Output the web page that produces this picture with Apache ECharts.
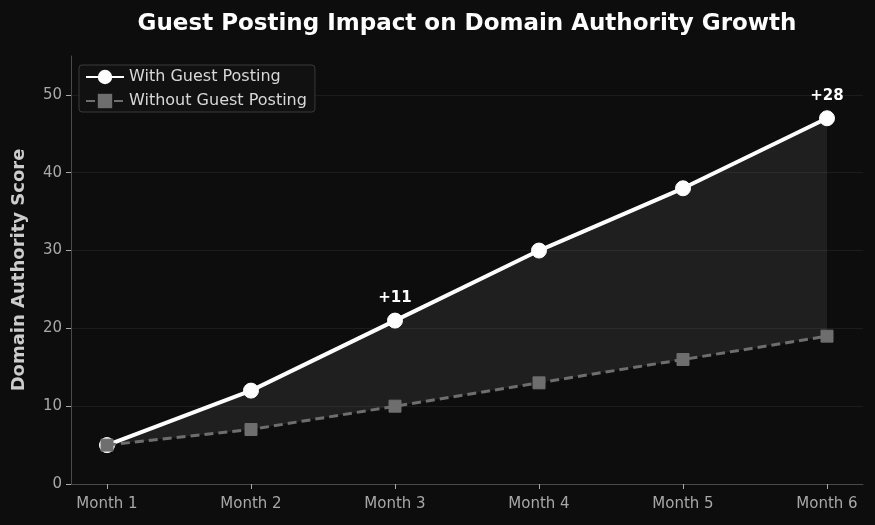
<!DOCTYPE html>
<html>
<head>
<meta charset="utf-8">
<script src="https://cdn.jsdelivr.net/npm/echarts@6/dist/echarts.min.js"></script>
<style>
  html, body { margin: 0; padding: 0; background: #0d0d0d; }
  #chart { width: 875px; height: 525px; }
</style>
</head>
<body>
<div id="chart"></div>
<script>
const months = ['Month 1', 'Month 2', 'Month 3', 'Month 4', 'Month 5', 'Month 6']
const withGuest = [5, 12, 21, 30, 38, 47]
const withoutGuest = [5, 7, 10, 13, 16, 19]
const annotated = [2, 5]
const yTicks = [0, 10, 20, 30, 40, 50]

const idx = months.map((m, i) => i)
const font = 'DejaVu Sans'

const chart = echarts.init(document.getElementById('chart'))
chart.setOption({
    backgroundColor: '#0d0d0d',
    animation: false,
    textStyle: { fontFamily: font },
    title: {
        text: 'Guest Posting Impact on Domain Authority Growth',
        left: 462,
        textAlign: 'center',
        top: 8,
        textStyle: { color: '#ffffff', fontSize: 23, fontWeight: 'bold', fontFamily: font }
    },
    legend: {
        left: 79,
        top: 65,
        orient: 'vertical',
        itemGap: 8,
        itemWidth: 38,
        itemHeight: 18,
        padding: [4, 8, 3, 6],
        backgroundColor: '#111111',
        borderColor: '#3a3a3a',
        borderWidth: 1,
        borderRadius: 3,
        textStyle: { color: '#d8d8d8', fontSize: 16, fontFamily: font },
        data: ['With Guest Posting', 'Without Guest Posting']
    },
    grid: { left: 71, right: 12, top: 56, bottom: 41 },
    xAxis: {
        type: 'value',
        min: -0.25,
        max: 5.25,
        axisLine: { show: true, onZero: false, lineStyle: { color: '#4a4a4a', width: 1 } },
        axisTick: { show: true, customValues: idx, length: 5, lineStyle: { color: '#aaaaaa' } },
        axisLabel: {
            customValues: idx,
            color: '#a8a8a8',
            fontSize: 15,
            margin: 13,
            formatter: v => months[Math.round(v)]
        },
        splitLine: { show: false }
    },
    yAxis: {
        type: 'value',
        min: 0,
        max: 55,
        name: 'Domain Authority Score',
        nameLocation: 'middle',
        nameGap: 43,
        nameTextStyle: { color: '#cccccc', fontSize: 18, fontWeight: 'bold', fontFamily: font },
        axisLine: { show: true, onZero: false, lineStyle: { color: '#4a4a4a', width: 1 } },
        axisTick: { show: true, customValues: yTicks, length: 5, lineStyle: { color: '#aaaaaa' } },
        axisLabel: { customValues: yTicks, color: '#a8a8a8', fontSize: 15, margin: 9 },
        splitLine: { show: true, lineStyle: { color: '#1c1c1c', width: 1 } }
    },
    series: [
        {
            type: 'custom',
            silent: true,
            z: 1,
            data: [0],
            renderItem: (params, api) => {
                const top = idx.map(i => api.coord([i, withGuest[i]]))
                const bottom = idx.slice().reverse().map(i => api.coord([i, withoutGuest[i]]))
                return {
                    type: 'polygon',
                    shape: { points: top.concat(bottom) },
                    style: { fill: 'rgba(255,255,255,0.075)' }
                }
            }
        },
        {
            name: 'Without Guest Posting',
            type: 'line',
            z: 3,
            data: idx.map(i => [i, withoutGuest[i]]),
            symbol: 'rect',
            symbolSize: 12,
            lineStyle: { color: '#6e6e6e', width: 3, type: [9, 5] },
            itemStyle: { color: '#6e6e6e', borderColor: '#6e6e6e' }
        },
        {
            name: 'With Guest Posting',
            type: 'line',
            z: 2,
            data: idx.map(i => ({
                value: [i, withGuest[i]],
                label: annotated.includes(i) ? {
                    show: true,
                    position: 'top',
                    distance: 7,
                    color: '#ffffff',
                    fontSize: 15,
                    fontWeight: 'bold',
                    formatter: '+' + (withGuest[i] - withoutGuest[i])
                } : { show: false }
            })),
            symbol: 'circle',
            symbolSize: 15,
            lineStyle: { color: '#ffffff', width: 4 },
            itemStyle: { color: '#ffffff', borderColor: '#ffffff' }
        }
    ]
})
</script>
</body>
</html>
